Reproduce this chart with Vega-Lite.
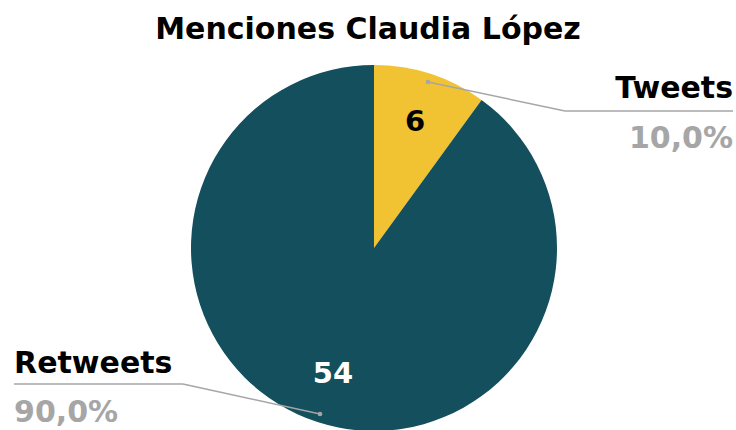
{
  "$schema": "https://vega.github.io/schema/vega-lite/v6.json",
  "width": 736,
  "height": 370,
  "autosize": {"type": "none"},
  "padding": {"left": 0, "right": 0, "top": 60, "bottom": 0},
  "background": "white",
  "title": {"text": "Menciones Claudia López", "font": "DejaVu Sans", "fontSize": 30, "fontWeight": "bold", "color": "#000000", "anchor": "middle", "offset": 15},
  "config": {
    "view": {"stroke": null},
    "locale": {"number": {"decimal": ",", "thousands": ".", "grouping": [3], "currency": ["", " $"]}}
  },
  "data": {"values": [
    {"tipo": "Tweets", "menciones": 6, "porcentaje": 0.1},
    {"tipo": "Retweets", "menciones": 54, "porcentaje": 0.9}
  ]},
  "layer": [
    {
      "mark": {"type": "arc", "outerRadius": 183},
      "encoding": {
        "x": {"datum": 0, "type": "quantitative", "scale": {"domain": [-2.0437, 1.9781], "nice": false, "zero": false}, "axis": null},
        "y": {"datum": 0, "type": "quantitative", "scale": {"domain": [-0.9945, 1.0273], "nice": false, "zero": false}, "axis": null},
        "theta": {"field": "menciones", "type": "quantitative", "stack": true},
        "order": {"field": "menciones", "sort": "ascending"},
        "color": {"field": "tipo", "type": "nominal", "scale": {"domain": ["Tweets", "Retweets"], "range": ["#f1c232", "#134f5c"]}, "legend": null}
      }
    },
    {
      "mark": {"type": "text", "radius": 133, "font": "DejaVu Sans", "fontSize": 29, "fontWeight": "bold", "align": "center", "baseline": "middle"},
      "encoding": {
        "x": {"datum": 0, "type": "quantitative"},
        "y": {"datum": 0, "type": "quantitative"},
        "theta": {"field": "menciones", "type": "quantitative", "stack": true},
        "order": {"field": "menciones", "sort": "ascending"},
        "text": {"field": "menciones", "type": "quantitative"},
        "color": {"condition": {"test": "datum.tipo === 'Tweets'", "value": "#000000"}, "value": "#ffffff"}
      }
    },
    {
      "transform": [{"filter": "datum.tipo === 'Tweets'"}],
      "mark": {"type": "rule", "color": "#a6a6a6", "strokeWidth": 1.5},
      "encoding": {
        "x": {"datum": 0.295, "type": "quantitative"},
        "y": {"datum": 0.907, "type": "quantitative"},
        "x2": {"datum": 1.044},
        "y2": {"datum": 0.749}
      }
    },
    {
      "transform": [{"filter": "datum.tipo === 'Tweets'"}],
      "mark": {"type": "rule", "color": "#a6a6a6", "strokeWidth": 1.5},
      "encoding": {
        "x": {"datum": 1.044, "type": "quantitative"},
        "x2": {"datum": 1.962},
        "y": {"datum": 0.749, "type": "quantitative"}
      }
    },
    {
      "transform": [{"filter": "datum.tipo === 'Tweets'"}],
      "mark": {"type": "circle", "color": "#a6a6a6", "size": 22, "opacity": 1},
      "encoding": {
        "x": {"datum": 0.295, "type": "quantitative"},
        "y": {"datum": 0.907, "type": "quantitative"}
      }
    },
    {
      "transform": [{"filter": "datum.tipo === 'Tweets'"}],
      "mark": {"type": "text", "font": "DejaVu Sans", "fontSize": 30, "fontWeight": "bold", "align": "right", "baseline": "alphabetic", "color": "#000000"},
      "encoding": {
        "x": {"datum": 1.962, "type": "quantitative"},
        "y": {"datum": 0.82, "type": "quantitative"},
        "text": {"field": "tipo", "type": "nominal"}
      }
    },
    {
      "transform": [{"filter": "datum.tipo === 'Tweets'"}],
      "mark": {"type": "text", "font": "DejaVu Sans", "fontSize": 30, "fontWeight": "bold", "align": "right", "baseline": "alphabetic", "color": "#a6a6a6"},
      "encoding": {
        "x": {"datum": 1.962, "type": "quantitative"},
        "y": {"datum": 0.546, "type": "quantitative"},
        "text": {"field": "porcentaje", "type": "quantitative", "format": ".1%"}
      }
    },
    {
      "transform": [{"filter": "datum.tipo === 'Retweets'"}],
      "mark": {"type": "rule", "color": "#a6a6a6", "strokeWidth": 1.5},
      "encoding": {
        "x": {"datum": -0.295, "type": "quantitative"},
        "y": {"datum": -0.907, "type": "quantitative"},
        "x2": {"datum": -1.044},
        "y2": {"datum": -0.743}
      }
    },
    {
      "transform": [{"filter": "datum.tipo === 'Retweets'"}],
      "mark": {"type": "rule", "color": "#a6a6a6", "strokeWidth": 1.5},
      "encoding": {
        "x": {"datum": -1.044, "type": "quantitative"},
        "x2": {"datum": -1.967},
        "y": {"datum": -0.743, "type": "quantitative"}
      }
    },
    {
      "transform": [{"filter": "datum.tipo === 'Retweets'"}],
      "mark": {"type": "circle", "color": "#a6a6a6", "size": 22, "opacity": 1},
      "encoding": {
        "x": {"datum": -0.295, "type": "quantitative"},
        "y": {"datum": -0.907, "type": "quantitative"}
      }
    },
    {
      "transform": [{"filter": "datum.tipo === 'Retweets'"}],
      "mark": {"type": "text", "font": "DejaVu Sans", "fontSize": 30, "fontWeight": "bold", "align": "left", "baseline": "alphabetic", "color": "#000000"},
      "encoding": {
        "x": {"datum": -1.967, "type": "quantitative"},
        "y": {"datum": -0.683, "type": "quantitative"},
        "text": {"field": "tipo", "type": "nominal"}
      }
    },
    {
      "transform": [{"filter": "datum.tipo === 'Retweets'"}],
      "mark": {"type": "text", "font": "DejaVu Sans", "fontSize": 30, "fontWeight": "bold", "align": "left", "baseline": "alphabetic", "color": "#a6a6a6"},
      "encoding": {
        "x": {"datum": -1.967, "type": "quantitative"},
        "y": {"datum": -0.951, "type": "quantitative"},
        "text": {"field": "porcentaje", "type": "quantitative", "format": ".1%"}
      }
    }
  ]
}
